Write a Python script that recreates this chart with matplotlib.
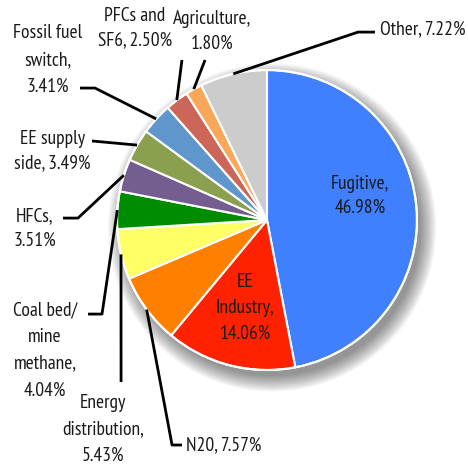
import matplotlib
matplotlib.use("Agg")
import matplotlib.pyplot as plt
from matplotlib.patches import Circle
import numpy as np

# Données (sens horaire depuis le haut)
labels = ["Fugitive", "EE\nIndustry", "N20", "Energy\ndistribution",
          "Coal bed/\nmine\nmethane", "HFCs", "EE supply\nside",
          "Fossil fuel\nswitch", "PFCs and\nSF6", "Agriculture", "Other"]
values = [46.98, 14.06, 7.57, 5.43, 4.04, 3.51, 3.49, 3.41, 2.50, 1.80, 7.22]
colors = ["#4080FF", "#FF2200", "#FF7F00", "#FFFF66", "#008C00", "#735E8F",
          "#8BA04E", "#5F97CC", "#CC6659", "#F9A85A", "#CCCCCC"]
# séparateur entre nom et pourcentage
seps = [",\n", ",\n", ", ", ",\n", ",\n", ",\n", ", ", ",\n", ", ", ",\n", ", "]

plt.rcParams["font.family"] = ["PT Sans Narrow", "Roboto Condensed", "DejaVu Sans"]
FS = 14

fig = plt.figure(figsize=(4.68, 4.66), dpi=100)
ax = fig.add_axes([0, 0, 1, 1])

# ombre portée floue
for k in range(14):
    r = 0.99 + k * 0.008
    ax.add_patch(Circle((0.035, -0.05), r, color="black", alpha=0.035, lw=0, zorder=0))

wedges, _ = ax.pie(values, colors=colors, startangle=90, counterclock=False,
                   radius=1.0, center=(0, 0), frame=True,
                   wedgeprops=dict(edgecolor="white", linewidth=1.5, zorder=2))
ax.add_patch(Circle((0, 0), 1.0, fill=False, ec="white", lw=1.5, zorder=3))
ax.set_xlim(-1.78, 1.34)
ax.set_ylim(-1.64, 1.467)
ax.set_aspect("equal")
ax.axis("off")

# mise en page des étiquettes : (texte x, y), alignement, interligne, points de coude
layout = [
    ((0.62, 0.16), "center", 1.38, None),
    ((-0.147, -0.587), "center", 1.55, None),
    ((-0.54, -1.5), "left", 1.4, [(-0.633, -1.5), (-0.567, -1.5)]),
    ((-1.093, -1.393), "center", 1.6, [(-0.973, -1.08)]),
    ((-1.48, -0.867), "center", 1.63, [(-1.1, -0.627), (-1.193, -0.627)]),
    ((-1.547, -0.057), "center", 1.45, [(-1.26, 0.013), (-1.36, 0.013)]),
    ((-1.433, 0.46), "center", 1.4, [(-1.167, 0.527)]),
    ((-1.46, 1.067), "center", 1.63, [(-1.147, 0.88), (-1.247, 0.88)]),
    ((-0.88, 1.277), "center", 1.45, [(-0.567, 1.067)]),
    ((-0.367, 1.257), "center", 1.45, [(-0.413, 1.067)]),
    ((0.753, 1.273), "left", 1.4, [(0.607, 1.253), (0.72, 1.253)]),
]

cum = 0.0
total = sum(values)
for lab, v, sep, (pos, ha, ls, pts) in zip(labels, values, seps, layout):
    mid = np.deg2rad(90 - (cum + v / 2) / total * 360)
    cum += v
    ax.text(pos[0], pos[1], f"{lab}{sep}{v:.2f}%", ha=ha, va="center",
            fontsize=FS, linespacing=ls, color="#1a1a1a", zorder=5)
    if pts:
        xs = [np.cos(mid)] + [p[0] for p in pts]
        ys = [np.sin(mid)] + [p[1] for p in pts]
        ax.plot(xs, ys, color="black", lw=2, zorder=4, solid_capstyle="butt")

fig.savefig("out.png", dpi=100)
